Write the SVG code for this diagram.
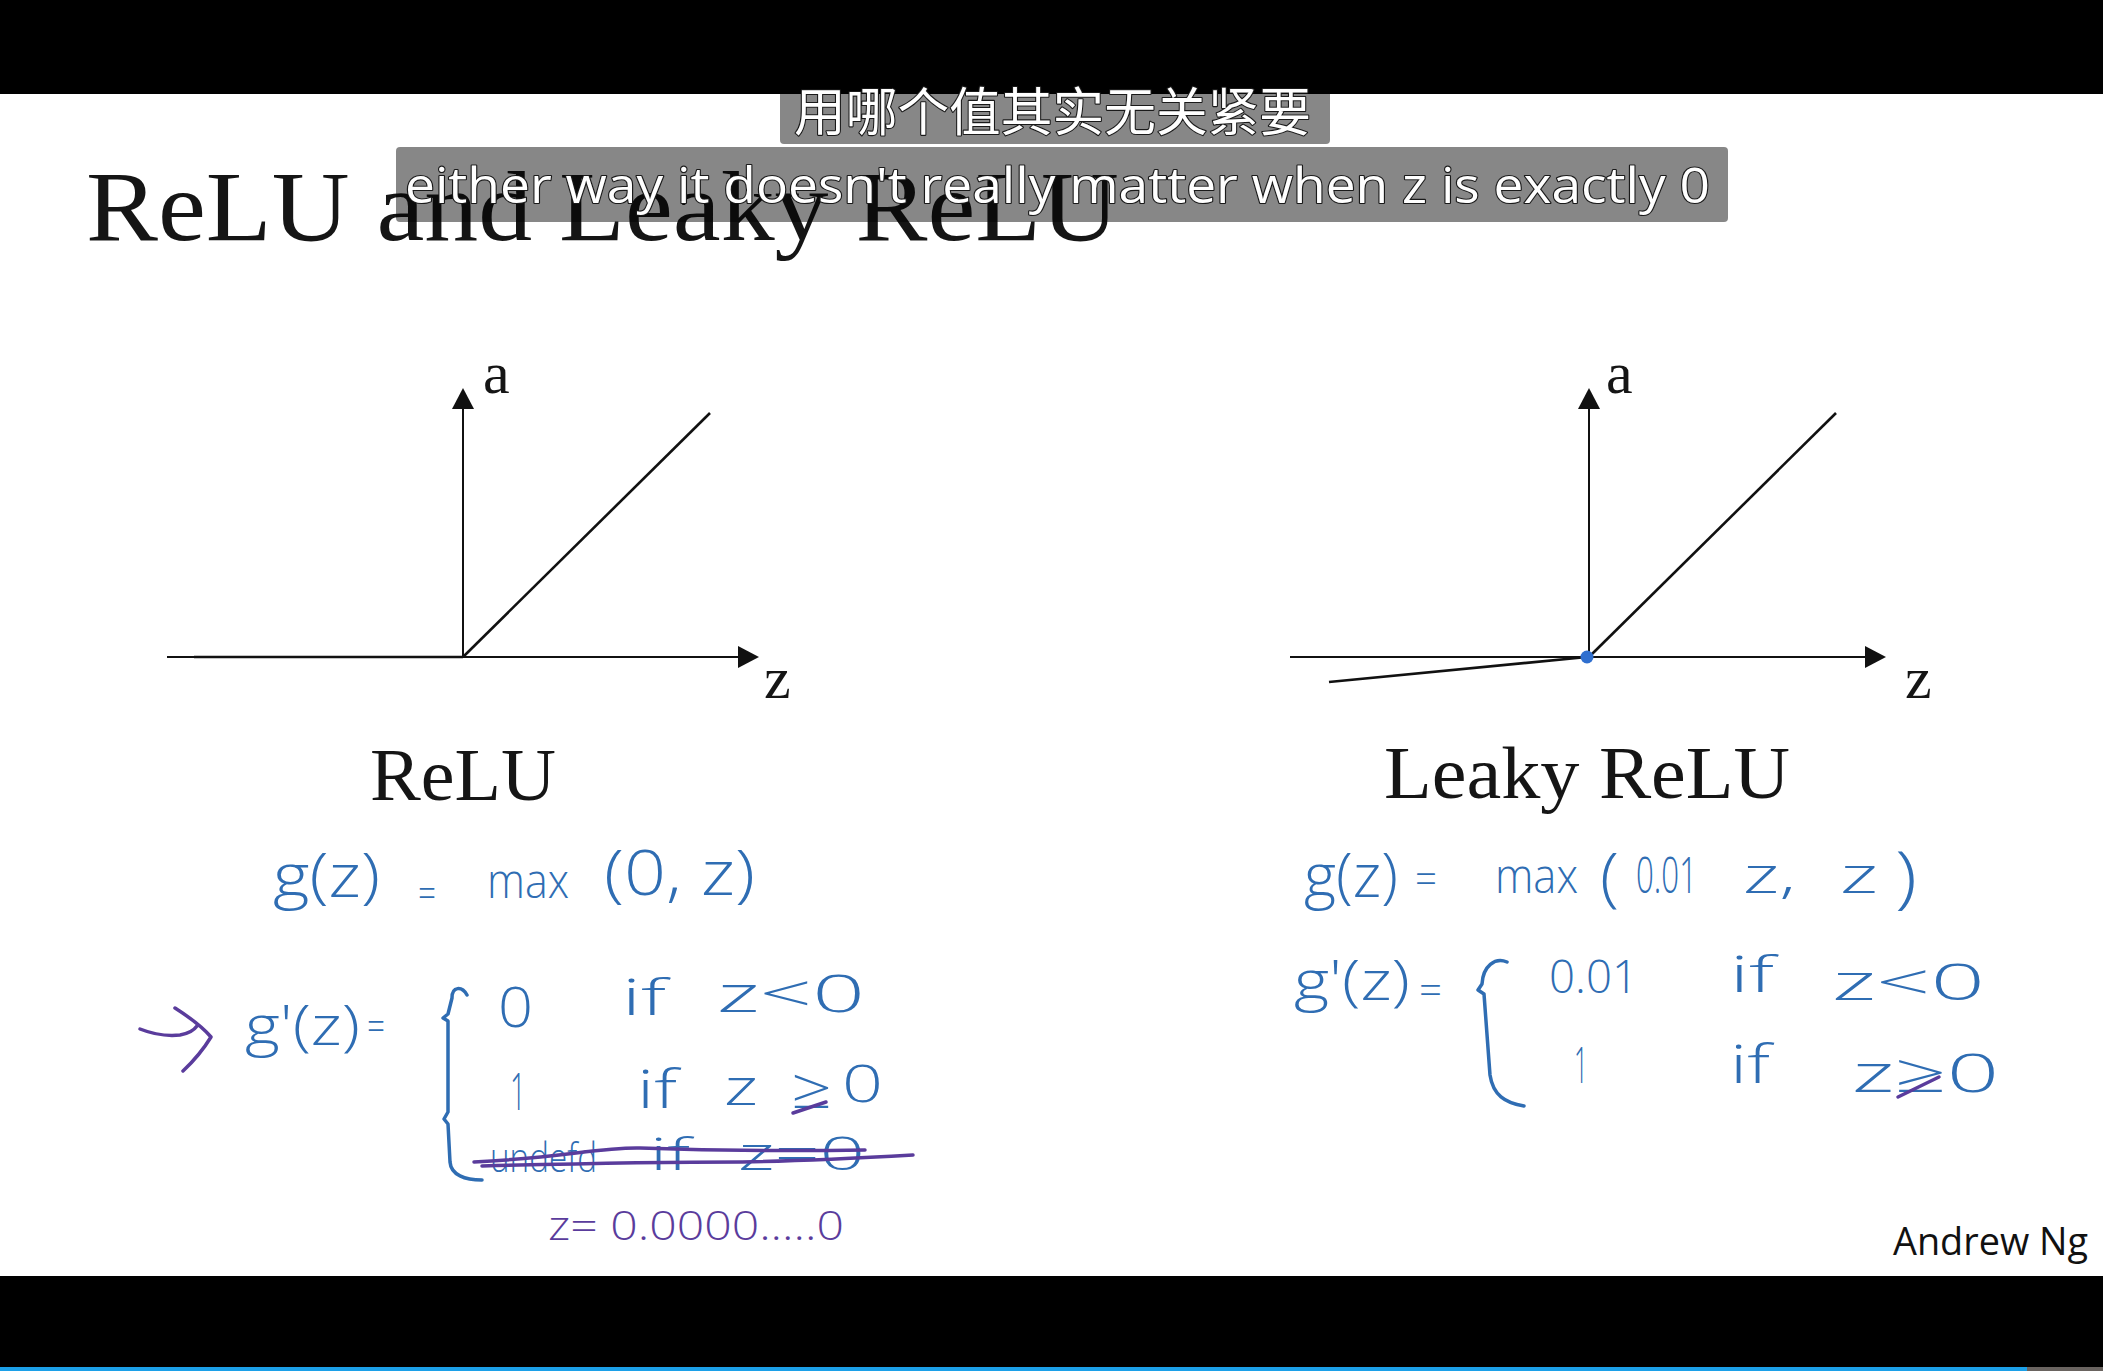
<svg xmlns="http://www.w3.org/2000/svg" width="2103" height="1371" viewBox="0 0 2103 1371">
<style>
.serif{font-family:"Liberation Serif","Times New Roman",serif;fill:#151515}
.hw{font-family:"Open Sans","Liberation Sans",sans-serif;font-weight:300;fill:#2f6db3}
.pp{font-family:"Open Sans","Liberation Sans",sans-serif;font-weight:300;fill:#5a3c9c}
.axis{stroke:#111;stroke-width:2;fill:none}
.fn{stroke:#111;stroke-width:2.6;fill:none}
.hs{stroke:#2f6db3;stroke-width:3.5;fill:none;stroke-linecap:round;stroke-linejoin:round}
.ps{stroke:#5a3c9c;stroke-width:3.5;fill:none;stroke-linecap:round;stroke-linejoin:round}
.subbox{fill:#000;fill-opacity:0.47}
.sub{fill:#fff;stroke:#1a1a1a;stroke-width:2.2;paint-order:stroke;stroke-linejoin:round}
</style>
<defs>
<marker id="ah" markerUnits="userSpaceOnUse" markerWidth="22" markerHeight="22" refX="0" refY="11" orient="auto">
<path d="M0,0 L21,11 L0,22 z" fill="#111"/>
</marker>
</defs>
<rect width="2103" height="1371" fill="#fff"/>

<g id="title">
<text class="serif" x="86" y="240" font-size="100" textLength="1033" lengthAdjust="spacingAndGlyphs">ReLU and Leaky ReLU</text>
</g>

<g id="connectors">
<line class="axis" x1="167" y1="657" x2="738" y2="657" marker-end="url(#ah)"/>
<line class="axis" x1="463" y1="657" x2="463" y2="409" marker-end="url(#ah)"/>
<line class="fn" x1="194" y1="657" x2="463" y2="657" stroke-width="3.4"/>
<line class="fn" x1="463" y1="657" x2="710" y2="413"/>
<line class="axis" x1="1290" y1="657" x2="1865" y2="657" marker-end="url(#ah)"/>
<line class="axis" x1="1589" y1="657" x2="1589" y2="409" marker-end="url(#ah)"/>
<line class="fn" x1="1589" y1="657" x2="1836" y2="413"/>
<line class="fn" x1="1329" y1="682" x2="1587" y2="657"/>
</g>

<g id="relu-graph">
<text class="serif" x="483" y="393" font-size="60">a</text>
<text class="serif" x="764" y="698" font-size="60">z</text>
<text class="serif" x="370" y="800" font-size="75" textLength="186" lengthAdjust="spacingAndGlyphs">ReLU</text>
</g>

<g id="leaky-graph">
<circle cx="1587" cy="657" r="6.5" fill="#2f6fcf"/>
<text class="serif" x="1606" y="393" font-size="60">a</text>
<text class="serif" x="1905" y="698" font-size="60">z</text>
<text class="serif" x="1384" y="798" font-size="75" textLength="406" lengthAdjust="spacingAndGlyphs">Leaky ReLU</text>
</g>

<g id="relu-formulas">
<text class="hw" x="273" y="897" font-size="60" textLength="107" lengthAdjust="spacingAndGlyphs">g(z)</text>
<text class="hw" x="418" y="907" font-size="40" textLength="18" lengthAdjust="spacingAndGlyphs">=</text>
<text class="hw" x="487" y="898" font-size="48" textLength="82" lengthAdjust="spacingAndGlyphs">max</text>
<text class="hw" x="604" y="895" font-size="62" textLength="151" lengthAdjust="spacingAndGlyphs">(0, z)</text>

<path class="ps" d="M140,1029 Q160,1037 180,1035 Q192,1033 197,1026"/>
<path class="ps" d="M175,1008 Q200,1024 211,1037 Q200,1055 183,1071"/>

<text class="hw" x="245" y="1045" font-size="56" textLength="115" lengthAdjust="spacingAndGlyphs">g'(z)</text>
<text class="hw" x="367" y="1040" font-size="40" textLength="18" lengthAdjust="spacingAndGlyphs">=</text>
<path class="hs" d="M467,995 C462,986 452,986 452,998 L448,1014 L443,1018 L448,1021 L448,1112 L444,1119 L448,1124 L450,1162 C451,1175 465,1180 482,1180"/>

<text class="hw" x="498" y="1027" font-size="56" textLength="35" lengthAdjust="spacingAndGlyphs">0</text>
<text class="hw" x="622" y="1015" font-size="50" textLength="44" lengthAdjust="spacingAndGlyphs">if</text>
<text class="hw" x="717" y="1012" font-size="52" textLength="148" lengthAdjust="spacingAndGlyphs">z&lt;0</text>

<text class="hw" x="510" y="1110" font-size="52" textLength="16" lengthAdjust="spacingAndGlyphs">1</text>
<text class="hw" x="637" y="1108" font-size="54" textLength="40" lengthAdjust="spacingAndGlyphs">if</text>
<text class="hw" x="724" y="1105" font-size="52" textLength="34" lengthAdjust="spacingAndGlyphs">z</text>
<text class="hw" x="791" y="1108" font-size="56" textLength="41" lengthAdjust="spacingAndGlyphs">≥</text>
<text class="hw" x="842" y="1102" font-size="52" textLength="41" lengthAdjust="spacingAndGlyphs">0</text>
<path class="ps" d="M793,1113 L826,1102"/>

<text class="hw" x="490" y="1172" font-size="40" textLength="107" lengthAdjust="spacingAndGlyphs">undefd</text>
<text class="hw" x="650" y="1170" font-size="44" textLength="40" lengthAdjust="spacingAndGlyphs">if</text>
<text class="hw" x="738" y="1170" font-size="46" textLength="127" lengthAdjust="spacingAndGlyphs">z=0</text>
<path class="ps" d="M474,1162 C560,1158 600,1147 640,1148 C700,1150 800,1151 865,1150"/>
<path class="ps" d="M482,1166 C600,1163 700,1162 742,1162 C800,1161 860,1158 913,1155"/>

<text class="pp" x="548" y="1240" font-size="40" textLength="296" lengthAdjust="spacingAndGlyphs">z= 0.0000.....0</text>
</g>

<g id="leaky-formulas">
<text class="hw" x="1304" y="897" font-size="60" textLength="94" lengthAdjust="spacingAndGlyphs">g(z)</text>
<text class="hw" x="1415" y="894" font-size="44" textLength="22" lengthAdjust="spacingAndGlyphs">=</text>
<text class="hw" x="1495" y="893" font-size="48" textLength="83" lengthAdjust="spacingAndGlyphs">max</text>
<text class="hw" x="1600" y="899" font-size="64" textLength="19" lengthAdjust="spacingAndGlyphs">(</text>
<text class="hw" x="1636" y="893" font-size="50" textLength="61" lengthAdjust="spacingAndGlyphs">0.01</text>
<text class="hw" x="1743" y="893" font-size="50" textLength="53" lengthAdjust="spacingAndGlyphs">z,</text>
<text class="hw" x="1840" y="893" font-size="50" textLength="38" lengthAdjust="spacingAndGlyphs">z</text>
<text class="hw" x="1895" y="900" font-size="68" textLength="22" lengthAdjust="spacingAndGlyphs">)</text>

<text class="hw" x="1294" y="1000" font-size="56" textLength="116" lengthAdjust="spacingAndGlyphs">g'(z)</text>
<text class="hw" x="1419" y="1004" font-size="40" textLength="23" lengthAdjust="spacingAndGlyphs">=</text>
<path class="hs" d="M1507,962 C1495,957 1483,966 1482,984 L1478,990 L1484,994 L1490,1075 C1493,1095 1505,1103 1524,1106"/>

<text class="hw" x="1549" y="993" font-size="46" textLength="89" lengthAdjust="spacingAndGlyphs">0.01</text>
<text class="hw" x="1730" y="992" font-size="50" textLength="44" lengthAdjust="spacingAndGlyphs">if</text>
<text class="hw" x="1832" y="1000" font-size="50" textLength="153" lengthAdjust="spacingAndGlyphs">z&lt;0</text>

<text class="hw" x="1574" y="1083" font-size="50" textLength="14" lengthAdjust="spacingAndGlyphs">1</text>
<text class="hw" x="1730" y="1083" font-size="54" textLength="40" lengthAdjust="spacingAndGlyphs">if</text>
<text class="hw" x="1852" y="1092" font-size="54" textLength="147" lengthAdjust="spacingAndGlyphs">z≥0</text>
<path class="ps" d="M1898,1097 L1939,1077"/>
</g>

<g id="footer">
<text x="1893" y="1255" font-family="'Open Sans','Liberation Sans',sans-serif" font-size="38" fill="#111" textLength="195" lengthAdjust="spacingAndGlyphs">Andrew Ng</text>
</g>

<g id="bars">
<rect x="0" y="0" width="2103" height="94" fill="#000"/>
<rect x="0" y="1276" width="2103" height="95" fill="#000"/>
<rect x="0" y="1367" width="2027" height="4" fill="#1ca0e8"/>
<rect x="2027" y="1367" width="76" height="4" fill="#6a6460"/>
</g>

<g id="subtitles">
<rect class="subbox" x="780" y="80" width="550" height="64" rx="4"/>
<text class="sub" x="794" y="131" font-family="'Noto Sans CJK SC',sans-serif" font-size="52" textLength="517" lengthAdjust="spacingAndGlyphs">用哪个值其实无关紧要</text>
<rect class="subbox" x="396" y="147" width="1332" height="75" rx="4"/>
<text class="sub" x="405" y="203" font-family="'Open Sans','Liberation Sans',sans-serif" font-size="50" textLength="1305" lengthAdjust="spacingAndGlyphs">either way it doesn't really matter when z is exactly 0</text>
</g>
</svg>
